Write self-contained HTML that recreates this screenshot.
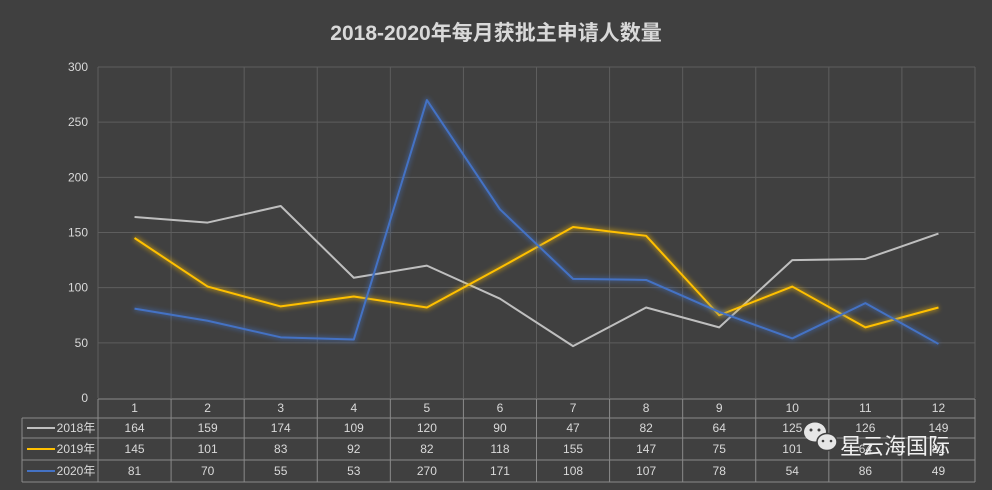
<!DOCTYPE html>
<html><head><meta charset="utf-8"><style>
html,body{margin:0;padding:0;background:#404040;}
svg{display:block;font-family:"Liberation Sans","Noto Sans CJK SC",sans-serif;}
</style></head><body>
<svg width="992" height="490" viewBox="0 0 992 490" xmlns="http://www.w3.org/2000/svg">
<defs>
<filter id="glow" x="-10%" y="-10%" width="120%" height="120%"><feGaussianBlur stdDeviation="2.5"/></filter>
</defs>
<rect width="992" height="490" fill="#404040"/>
<text x="496" y="40" text-anchor="middle" font-size="21" font-weight="bold" fill="#d9d9d9">2018-2020年每月获批主申请人数量</text>
<g id="grid" stroke="#5e5e5e" stroke-width="1"></g>
<g id="ylab" font-size="12" fill="#d9d9d9" text-anchor="end"></g>
<g id="table" stroke="#8a8a8a" stroke-width="1" fill="none"></g>
<g id="ttext" font-size="12" fill="#d9d9d9" text-anchor="middle"></g>
<g id="lines" fill="none" stroke-width="2" stroke-linejoin="round"></g>
<g transform="translate(805,420)">
<ellipse cx="10" cy="12" rx="11" ry="9.5" fill="#e6e6e6"/>
<ellipse cx="22" cy="22" rx="10" ry="8.5" fill="#e6e6e6" stroke="#404040" stroke-width="1.5"/>
<circle cx="6" cy="10" r="1.5" fill="#404040"/><circle cx="14" cy="10" r="1.5" fill="#404040"/>
<circle cx="18" cy="21" r="1.3" fill="#404040"/><circle cx="26" cy="21" r="1.3" fill="#404040"/>
</g>
<text x="840" y="454" font-size="22" fill="#f0f0f0">星云海国际</text>
</svg>
<script>
const ns="http://www.w3.org/2000/svg";
function el(p,t,a,txt){const e=document.createElementNS(ns,t);for(const k in a)e.setAttribute(k,a[k]);if(txt!==undefined)e.textContent=txt;document.getElementById(p).appendChild(e);return e;}
const L=98,R=975,W=(R-L)/12;
const y=v=>398-v*331/300;
for(let v=50;v<=300;v+=50){el("grid","line",{x1:L,x2:R,y1:y(v),y2:y(v)});}
for(let i=0;i<=12;i++){el("grid","line",{x1:L+i*W,x2:L+i*W,y1:67,y2:398});}
for(let v=0;v<=300;v+=50){el("ylab","text",{x:88,y:y(v)+4},String(v));}
const rows=[399,418,438,460,482];
el("table","line",{x1:L,x2:R,y1:399,y2:399});
for(let r=1;r<5;r++)el("table","line",{x1:22,x2:R,y1:rows[r],y2:rows[r]});
el("table","line",{x1:22,x2:22,y1:418,y2:482});
for(let i=0;i<=12;i++)el("table","line",{x1:L+i*W,x2:L+i*W,y1:399,y2:482});
const d={"2018年":[164,159,174,109,120,90,47,82,64,125,126,149],"2019年":[145,101,83,92,82,118,155,147,75,101,64,82],"2020年":[81,70,55,53,270,171,108,107,78,54,86,49]};
const col={"2018年":"#bfbfbf","2019年":"#ffc000","2020年":"#4472c4"};
for(let i=0;i<12;i++)el("ttext","text",{x:L+(i+.5)*W,y:412},String(i+1));
let r=1;
for(const k in d){
  const cy=(rows[r]+rows[r+1])/2+4;
  d[k].forEach((v,i)=>el("ttext","text",{x:L+(i+.5)*W,y:cy},String(v)));
  el("lines","line",{x1:27,x2:55,y1:cy-4,y2:cy-4,stroke:col[k]});
  el("ttext","text",{x:76,y:cy,"text-anchor":"middle"},k);
  const pts=d[k].map((v,i)=>(L+(i+.5)*W)+","+y(v)).join(" ");
  if(k!=="2018年")el("lines","polyline",{points:pts,stroke:col[k],"stroke-width":5,opacity:.45,filter:"url(#glow)"});
  el("lines","polyline",{points:pts,stroke:col[k]});
  r++;
}
</script>
</body></html>
